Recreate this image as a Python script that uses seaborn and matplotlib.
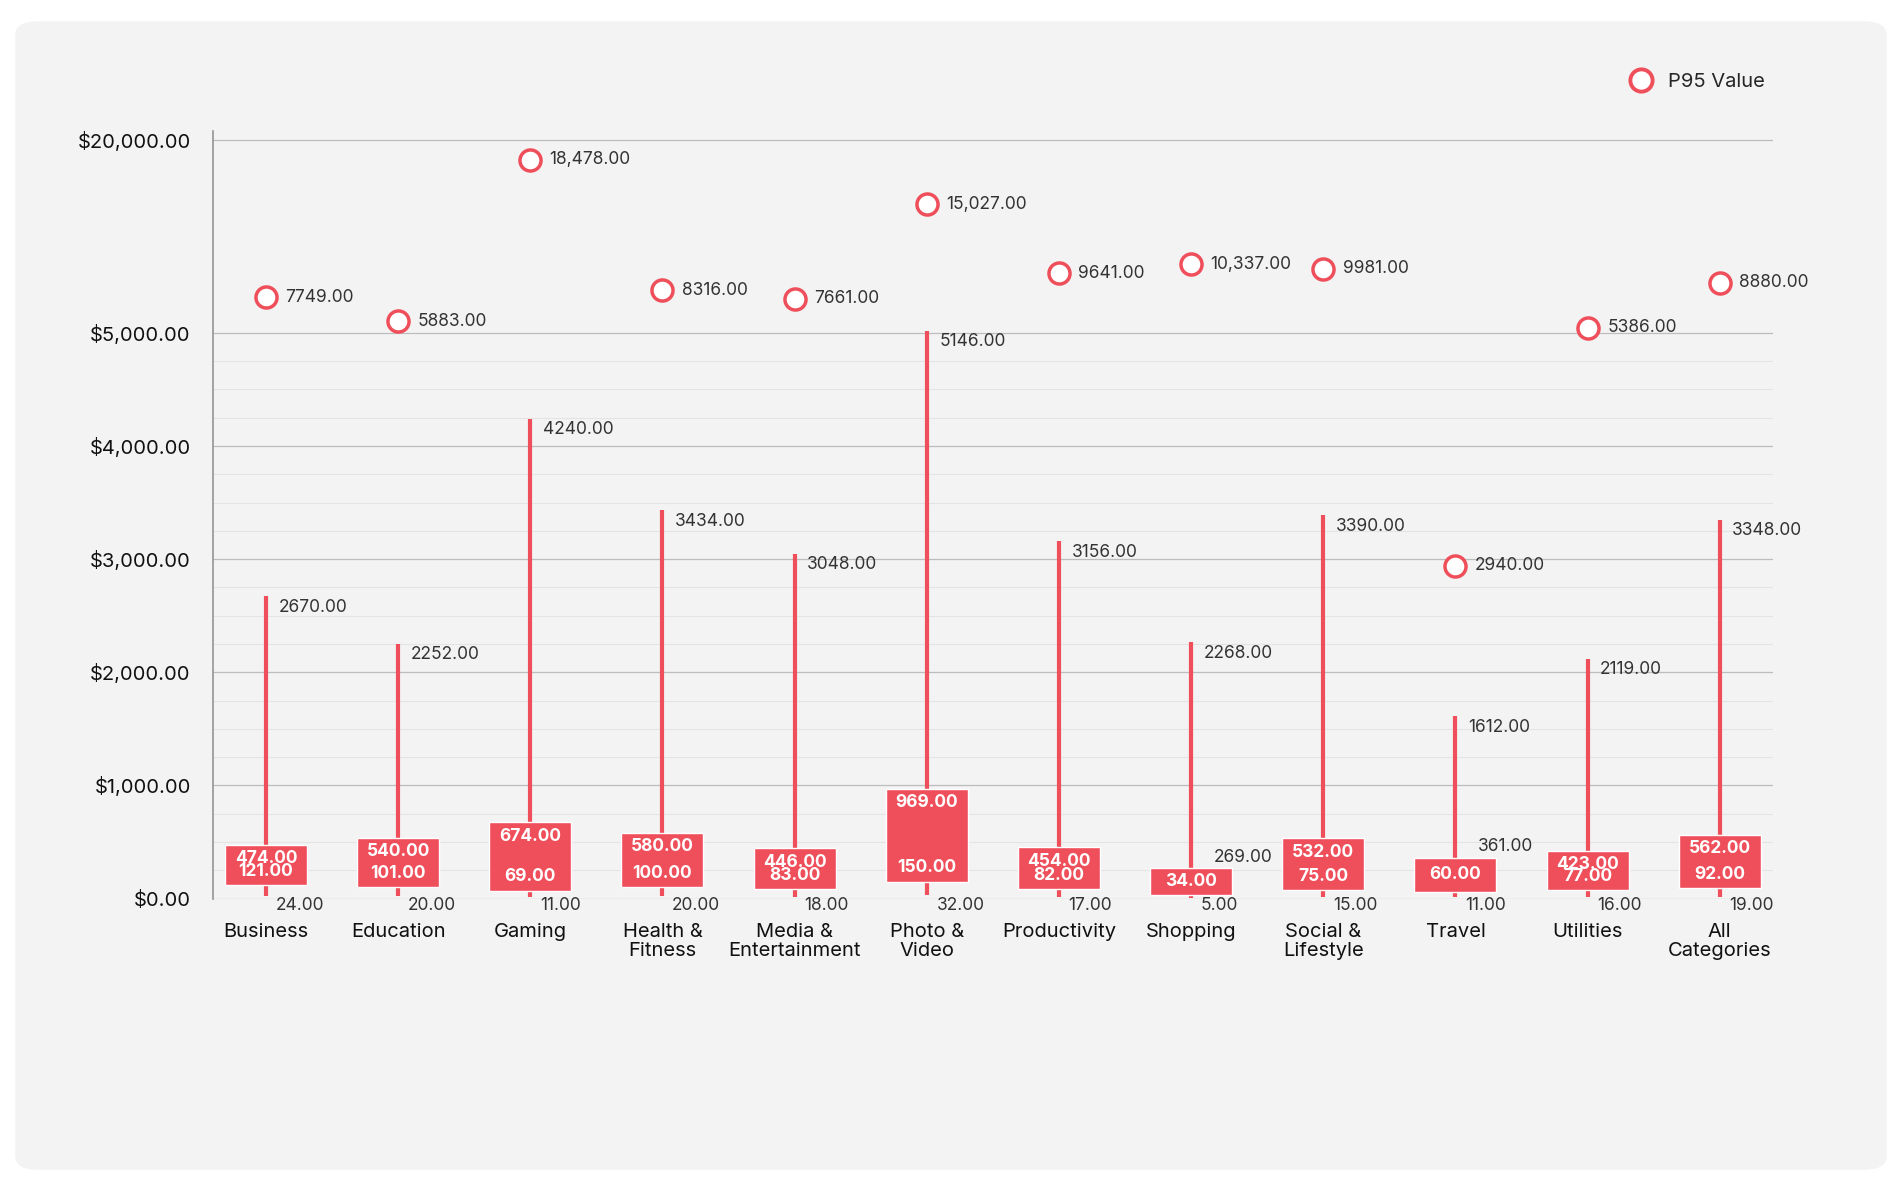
import numpy as np
import pandas as pd
import matplotlib.pyplot as plt
import seaborn as sns
from matplotlib.patches import FancyBboxPatch
from matplotlib.lines import Line2D

categories = ['Business', 'Education', 'Gaming', 'Health &\nFitness', 'Media &\nEntertainment',
              'Photo &\nVideo', 'Productivity', 'Shopping', 'Social &\nLifestyle', 'Travel',
              'Utilities', 'All\nCategories']
p95 = [7749, 5883, 18478, 8316, 7661, 15027, 9641, 10337, 9981, 2940, 5386, 8880]
max_vals = [2670, 2252, 4240, 3434, 3048, 5146, 3156, 2268, 3390, 1612, 2119, 3348]
q3 = [474, 540, 674, 580, 446, 969, 454, 269, 532, 361, 423, 562]
q1 = [121, 101, 69, 100, 83, 150, 82, 34, 75, 60, 77, 92]
min_vals = [24, 20, 11, 20, 18, 32, 17, 5, 15, 11, 16, 19]

df = pd.DataFrame({'cat': categories, 'p95': p95, 'max': max_vals, 'q3': q3, 'q1': q1, 'min': min_vals})
df['x'] = np.arange(len(df))

RED = '#ef4f5a'
K = 0.1133

def fwd(y):
    y = np.asarray(y, dtype=float)
    return np.where(y <= 5000, y, 5000 + (y - 5000) * K)

def inv(y):
    y = np.asarray(y, dtype=float)
    return np.where(y <= 5000, y, 5000 + (y - 5000) / K)

sns.set_theme(style='white')
plt.rcParams['font.family'] = ['Inter', 'DejaVu Sans']

fig = plt.figure(figsize=(19.02, 11.84), dpi=100, facecolor='white')
fig.patches.append(FancyBboxPatch((0.008, 0.012), 0.984, 0.97, boxstyle='round,pad=0,rounding_size=0.012',
                                  transform=fig.transFigure, facecolor='#f3f3f3', edgecolor='none', zorder=-10))
ax = fig.add_axes([0.112, 0.241, 0.82, 0.648])
ax.set_facecolor('#f3f3f3')
ax.set_yscale('function', functions=(fwd, inv))
ax.set_ylim(0, 20700)
ax.set_xlim(-0.4, len(df) - 0.6)

# grid
for v in np.arange(250, 5000, 250):
    ax.axhline(v, color='#e4e4e4', lw=0.8, zorder=0)
for v in [0, 1000, 2000, 3000, 4000, 5000, 20000]:
    ax.axhline(v, color='#bdbdbd', lw=0.9, zorder=0)

# whiskers
ax.vlines(df['x'], df['min'], df['max'], color=RED, lw=3, zorder=2)
# boxes
ax.bar(df['x'], df['q3'] - df['q1'], bottom=df['q1'], width=0.62, color=RED, zorder=3)
# p95
sns.scatterplot(data=df, x='x', y='p95', ax=ax, s=230, facecolor='white', edgecolor=RED, linewidth=2.5,
                zorder=4, legend=False)

fs = 12.5
for _, r in df.iterrows():
    x = r['x']
    lab = f"{r['p95']:,.2f}" if r['p95'] >= 10000 else f"{r['p95']:.2f}"
    ax.annotate(lab, (x, r['p95']), xytext=(14, 0), textcoords='offset points', va='center', fontsize=fs, color='#333333')
    ax.annotate(f"{r['max']:.2f}", (x, r['max']), xytext=(9, -8), textcoords='offset points', va='center', fontsize=fs, color='#333333')
    ax.annotate(f"{r['min']:.2f}", (x, 0), xytext=(7, -5), textcoords='offset points', va='center', fontsize=fs, color='#333333')
    if r['q3'] - r['q1'] < 320:
        ax.annotate(f"{r['q3']:.2f}", (x, r['q3']), xytext=(16, 8), textcoords='offset points', va='center', fontsize=fs, color='#333333')
        ax.text(x, (r['q3'] + r['q1']) / 2, f"{r['q1']:.2f}", ha='center', va='center', fontsize=fs, color='white', fontweight='bold', zorder=5)
    else:
        ax.annotate(f"{r['q3']:.2f}", (x, r['q3']), xytext=(0, -10), textcoords='offset points', ha='center', va='center', fontsize=fs, color='white', fontweight='bold', zorder=5)
        ax.annotate(f"{r['q1']:.2f}", (x, r['q1']), xytext=(0, 10), textcoords='offset points', ha='center', va='center', fontsize=fs, color='white', fontweight='bold', zorder=5)

ax.set_yticks([0, 1000, 2000, 3000, 4000, 5000, 20000])
ax.set_yticklabels([f"${v:,.2f}" for v in [0, 1000, 2000, 3000, 4000, 5000, 20000]], fontsize=14.5, color='#111111')
ax.set_xticks(df['x'])
ax.set_xticklabels(categories, fontsize=14.5, color='#111111', linespacing=1.05)
ax.tick_params(axis='x', length=7, width=1, color='#888888', pad=14, direction='inout')
ax.tick_params(axis='y', length=0, pad=16)
for s in ['top', 'right', 'bottom']:
    ax.spines[s].set_visible(False)
ax.spines['left'].set_color('#999999')
ax.set_xlabel('')
ax.set_ylabel('')

handle = Line2D([], [], marker='o', linestyle='none', markersize=16, markerfacecolor='white',
                markeredgecolor=RED, markeredgewidth=2.8)
fig.legend([handle], ['P95 Value'], loc='center', bbox_to_anchor=(0.89, 0.931), frameon=False,
           fontsize=14.5, handletextpad=0.3)

fig.savefig('out.png', dpi=100, facecolor='white')
